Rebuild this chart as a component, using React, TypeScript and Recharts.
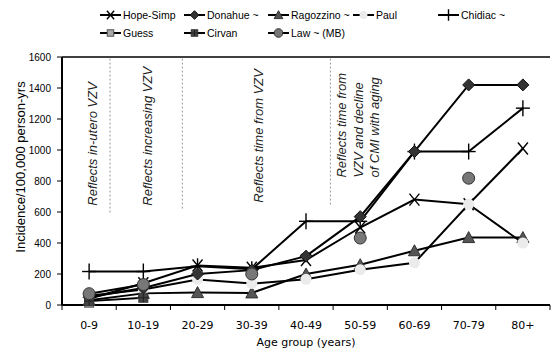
import React from 'react';
import { LineChart, Line, XAxis, YAxis, ReferenceLine, ReferenceDot } from 'recharts';

const categories = ['0-9', '10-19', '20-29', '30-39', '40-49', '50-59', '60-69', '70-79', '80+'];
const hopeSimp = [40, 140, 255, 240, 290, 500, 680, 650, 1010];
const donahue = [50, 110, 200, 225, 315, 570, 990, 1420, 1420];
const ragozzino = [30, 75, 80, 78, 200, 260, 350, 435, 435];
const paul = [60, 100, 165, 138, 166, 228, 272, 650, 400];
const chidiac = [216, 216, 250, 230, 540, 540, 990, 990, 1270];
const guess = [15, null, null, null, null, null, null, null, null];
const cirvan = [25, 47, null, null, null, null, null, null, null];
const law = [73, 132, null, 200, null, 432, null, 818, null];
const yTicks = [0, 200, 400, 600, 800, 1000, 1200, 1400, 1600];

// annotation positions in category-index units (0 = centre of first age group)
const annotationLines = [
  { x: 0.385, top: 1590, bottom: 583 },
  { x: 1.72, top: 1590, bottom: 615 },
  { x: 4.45, top: 1590, bottom: 648 },
];
const annotationTexts = [
  { x: 0.055, y: 641, lines: ['Reflects in-utero VZV'] },
  { x: 1.08, y: 641, lines: ['Reflects increasing VZV'] },
  { x: 3.12, y: 660, lines: ['Reflects time from VZV'] },
  { x: 4.66, y: 822, lines: ['Reflects time from', 'VZV and decline', 'of CMI with aging'] },
];

const series = [
  { key: 'chidiac', name: 'Chidiac ~', values: chidiac, marker: 'plus' },
  { key: 'hopeSimp', name: 'Hope-Simp', values: hopeSimp, marker: 'x' },
  { key: 'ragozzino', name: 'Ragozzino ~', values: ragozzino, marker: 'triangle' },
  { key: 'paul', name: 'Paul', values: paul, marker: 'circleLight' },
  { key: 'donahue', name: 'Donahue ~', values: donahue, marker: 'diamond' },
  { key: 'guess', name: 'Guess', values: guess, marker: 'squareGuess' },
  { key: 'cirvan', name: 'Cirvan', values: cirvan, marker: 'squareCirvan' },
  { key: 'law', name: 'Law ~ (MB)', values: law, marker: 'circleLaw' },
];

const legendRows = [
  ['hopeSimp', 'donahue', 'ragozzino', 'paul', 'chidiac'],
  ['guess', 'cirvan', 'law'],
];

const SANS = "'Liberation Sans', Arial, Helvetica, sans-serif";
const VERD = "'DejaVu Sans', Verdana, sans-serif";

const data = categories.map((c, i) => {
  const row: any = { cat: c, idx: i };
  series.forEach((s) => {
    row[s.key] = s.values[i];
  });
  return row;
});

function Marker({ kind, cx, cy, s = 1 }: { kind: string; cx: number; cy: number; s?: number }) {
  switch (kind) {
    case 'x':
      return (
        <g stroke="#000" strokeWidth={1.4}>
          <line x1={cx - 5 * s} y1={cy - 6 * s} x2={cx + 5 * s} y2={cy + 6 * s} />
          <line x1={cx + 5 * s} y1={cy - 6 * s} x2={cx - 5 * s} y2={cy + 6 * s} />
        </g>
      );
    case 'plus':
      return (
        <g stroke="#000" strokeWidth={1.4}>
          <line x1={cx - 7 * s} y1={cy} x2={cx + 7 * s} y2={cy} />
          <line x1={cx} y1={cy - 8 * s} x2={cx} y2={cy + 8 * s} />
        </g>
      );
    case 'diamond':
      return (
        <polygon
          points={`${cx},${cy - 6 * s} ${cx + 6 * s},${cy} ${cx},${cy + 6 * s} ${cx - 6 * s},${cy}`}
          fill="#333"
          stroke="#111"
          strokeWidth={1}
        />
      );
    case 'triangle':
      return (
        <polygon
          points={`${cx},${cy - 6 * s} ${cx + 6 * s},${cy + 5 * s} ${cx - 6 * s},${cy + 5 * s}`}
          fill="#555"
          stroke="#333"
          strokeWidth={1}
        />
      );
    case 'circleLight':
      return <circle cx={cx} cy={cy} r={5.5 * s} fill="#ebebeb" stroke="none" />;
    case 'circleLaw':
      return <circle cx={cx} cy={cy} r={6 * s} fill="#777" stroke="#333" strokeWidth={1} />;
    case 'squareGuess':
      return <rect x={cx - 4.5 * s} y={cy - 4.5 * s} width={9 * s} height={9 * s} fill="#aaa" stroke="#555" strokeWidth={1} />;
    case 'squareCirvan':
      return (
        <g>
          <rect x={cx - 4.5 * s} y={cy - 4.5 * s} width={9 * s} height={9 * s} fill="#444" stroke="#333" strokeWidth={1} />
          <line x1={cx} y1={cy - 4.5 * s} x2={cx} y2={cy + 4.5 * s} stroke="#222" strokeWidth={1} />
          <line x1={cx - 4.5 * s} y1={cy} x2={cx + 4.5 * s} y2={cy} stroke="#222" strokeWidth={1} />
        </g>
      );
    default:
      return null;
  }
}

const makeDot = (kind: string) => (props: any) => {
  const { cx, cy, index, value } = props;
  if (cx == null || cy == null || value == null || Number.isNaN(cy)) return <g key={`e-${index}`} />;
  return (
    <g key={`d-${index}`}>
      <Marker kind={kind} cx={cx} cy={cy} />
    </g>
  );
};

const XTick = (props: any) => {
  const { x, y, payload, index } = props;
  const off = payload && payload.offset != null ? payload.offset : 27;
  const axisY = y - 16;
  return (
    <g>
      <line x1={x - off} x2={x - off} y1={axisY} y2={axisY + 5} stroke="#000" strokeWidth={1} />
      {index === categories.length - 1 && (
        <line x1={x + off} x2={x + off} y1={axisY} y2={axisY + 5} stroke="#000" strokeWidth={1} />
      )}
      <text x={x} y={y} dy="0.71em" textAnchor="middle" fontFamily={VERD} fontSize={11} fill="#000">
        {payload.value}
      </text>
    </g>
  );
};

const annotationShape = (lines: string[]) => (props: any) => {
  const { cx, cy } = props;
  if (cx == null || cy == null) return <g />;
  return (
    <text
      transform={`rotate(-90, ${cx}, ${cy})`}
      x={cx}
      y={cy}
      fontFamily={SANS}
      fontStyle="italic"
      fontSize={13}
      fill="#222"
      textAnchor="start"
    >
      {lines.map((l, i) => (
        <tspan key={i} x={cx} dy={i === 0 ? '0.35em' : '1.27em'}>
          {l}
        </tspan>
      ))}
    </text>
  );
};

function Legend() {
  const colX = [100, 184, 268, 353, 438];
  const rowY = [15, 33];
  const byKey: any = {};
  series.forEach((s) => (byKey[s.key] = s));
  return (
    <svg width={551} height={45} style={{ position: 'absolute', left: 0, top: 0 }}>
      {legendRows.map((row, r) =>
        row.map((k, c) => {
          const s = byKey[k];
          const x0 = colX[c];
          const y0 = rowY[r];
          return (
            <g key={k}>
              <line x1={x0} x2={x0 + 21} y1={y0} y2={y0} stroke="#000" strokeWidth={2} />
              <Marker kind={s.marker} cx={x0 + 10.5} cy={y0} s={0.72} />
              <text x={x0 + 23} y={y0} dy="0.35em" fontFamily={SANS} fontSize={10.5} fill="#000">
                {s.name}
              </text>
            </g>
          );
        })
      )}
    </svg>
  );
}

export default function App() {
  return (
    <div style={{ position: 'absolute', left: 0, top: 0, width: 551, height: 355, background: '#fff' }}>
      <LineChart width={551} height={355} data={data} margin={{ top: 57, right: 1, bottom: 0, left: 0 }}>
        <XAxis
          dataKey="cat"
          scale="band"
          height={50}
          axisLine={{ stroke: '#000', strokeWidth: 2 }}
          tickLine={false}
          tickSize={5}
          tickMargin={11}
          interval={0}
          tick={<XTick />}
          label={(p: any) => {
            const vb = p.viewBox || {};
            return (
              <text
                x={(vb.x || 62) + (vb.width || 488) / 2}
                y={342}
                textAnchor="middle"
                dominantBaseline="central"
                fontFamily={VERD}
                fontSize={11}
                fill="#000"
              >
                Age group (years)
              </text>
            );
          }}
        />
        <XAxis xAxisId="num" dataKey="idx" type="number" domain={[-0.5, 8.5]} hide allowDataOverflow />
        <YAxis
          width={62}
          domain={[0, 1600]}
          ticks={yTicks}
          interval={0}
          axisLine={{ stroke: '#000', strokeWidth: 2 }}
          tickLine={{ stroke: '#000' }}
          tickSize={5}
          tickMargin={6}
          tick={{ fontFamily: SANS, fontSize: 10, fill: '#000' }}
          label={() => (
            <text
              transform="rotate(-90, 20, 167)"
              x={20}
              y={167}
              textAnchor="middle"
              dominantBaseline="central"
              fontFamily={SANS}
              fontSize={13}
              fill="#000"
            >
              Incidence/100,000 person-yrs
            </text>
          )}
        />
        <ReferenceLine y={1600} stroke="#000" strokeWidth={1.5} />
        {annotationLines.map((a, i) => (
          <ReferenceLine
            key={`al-${i}`}
            xAxisId="num"
            segment={[
              { x: a.x, y: a.top },
              { x: a.x, y: a.bottom },
            ]}
            stroke="#999"
            strokeWidth={1}
            strokeDasharray="2 2"
          />
        ))}
        {annotationTexts.map((a, i) => (
          <ReferenceDot
            key={`at-${i}`}
            xAxisId="num"
            x={a.x}
            y={a.y}
            r={0}
            shape={annotationShape(a.lines)}
          />
        ))}
        {series.map((s) => (
          <Line
            key={s.key}
            dataKey={s.key}
            name={s.name}
            stroke="#000"
            strokeWidth={2}
            dot={makeDot(s.marker)}
            activeDot={false}
            isAnimationActive={false}
            connectNulls={false}
          />
        ))}
      </LineChart>
      <Legend />
    </div>
  );
}
